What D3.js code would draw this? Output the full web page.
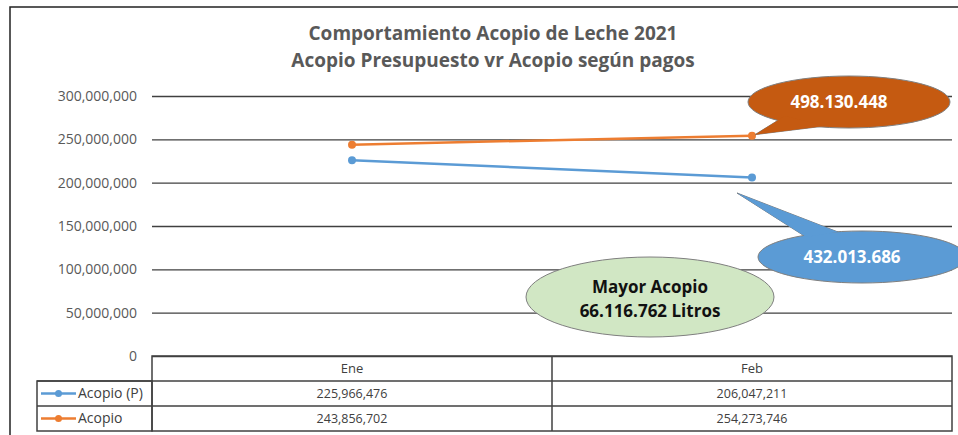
<!DOCTYPE html>
<html>
<head>
<meta charset="utf-8">
<script src="https://cdn.jsdelivr.net/npm/d3@7"></script>
<style>
  body { margin: 0; background: #fff; }
  svg { display: block; font-family: "Open Sans", "Noto Sans", sans-serif; }
</style>
</head>
<body>
<div id="chart"></div>
<script>
// chart data
const categories = ["Ene", "Feb"];
const seriesNames = ["Acopio (P)", "Acopio"];
const acopioP = [225966476, 206047211];
const acopio = [243856702, 254273746];
const yTicks = [0, 50000000, 100000000, 150000000, 200000000, 250000000, 300000000];
const titleLines = ["Comportamiento Acopio de Leche 2021", "Acopio Presupuesto vr Acopio según pagos"];
const calloutTexts = ["498.130.448", "432.013.686"];
const noteLines = ["Mayor Acopio", "66.116.762 Litros"];

const width = 958;
const height = 435;
const colors = ["#5B9BD5", "#ED7D31"];
const series = [acopioP, acopio];

const svg = d3.select("#chart").append("svg")
    .attr("width", width)
    .attr("height", height);

// outer frame
svg.append("rect")
    .attr("x", 10).attr("y", 7)
    .attr("width", 960).attr("height", 440)
    .attr("fill", "#fff")
    .attr("stroke", "#222")
    .attr("stroke-width", 1.5);

const x = d3.scaleBand()
    .domain(categories)
    .range([152, 952])
    .paddingInner(0)
    .paddingOuter(0);

const y = d3.scaleLinear()
    .domain([0, 300000000])
    .range([356, 96]);

// title
svg.selectAll(".title")
    .data(titleLines)
    .enter()
    .append("text")
    .attr("class", "title")
    .attr("x", 493)
    .attr("y", (d, i) => 40 + i * 27)
    .attr("text-anchor", "middle")
    .attr("font-size", 19)
    .attr("font-weight", "bold")
    .attr("fill", "#595959")
    .text(d => d);

// y axis with gridlines
const yAxis = d3.axisLeft(y)
    .tickValues(yTicks)
    .tickSize(-(952 - 152))
    .tickPadding(15)
    .tickFormat(d3.format(","));

const gy = svg.append("g")
    .attr("transform", "translate(152,0)")
    .call(yAxis);
gy.select(".domain").remove();
gy.selectAll(".tick line")
    .attr("stroke", "#404040")
    .attr("stroke-width", 1.3);
gy.selectAll(".tick text")
    .attr("font-size", 14)
    .attr("fill", "#595959")
    .attr("font-family", "Open Sans, sans-serif");

// lines
const line = d3.line()
    .x((d, i) => x(categories[i]) + x.bandwidth() / 2)
    .y(d => y(d));

series.forEach((s, k) => {
    svg.append("path")
        .datum(s)
        .attr("fill", "none")
        .attr("stroke", colors[k])
        .attr("stroke-width", 2.5)
        .attr("d", line);
    svg.selectAll(".pt" + k)
        .data(s)
        .enter()
        .append("circle")
        .attr("class", "pt" + k)
        .attr("cx", (d, i) => x(categories[i]) + x.bandwidth() / 2)
        .attr("cy", d => y(d))
        .attr("r", 4)
        .attr("fill", colors[k]);
});

// data table
const rowTop = [356, 381, 406, 431];
const tbl = svg.append("g")
    .attr("fill", "none")
    .attr("stroke", "#404040")
    .attr("stroke-width", 1.5);
tbl.append("rect").attr("x", 152).attr("y", rowTop[0]).attr("width", 800).attr("height", rowTop[3] - rowTop[0]);
tbl.append("rect").attr("x", 37).attr("y", rowTop[1]).attr("width", 115).attr("height", rowTop[3] - rowTop[1]);
tbl.append("line").attr("x1", 37).attr("x2", 952).attr("y1", rowTop[1]).attr("y2", rowTop[1]);
tbl.append("line").attr("x1", 37).attr("x2", 952).attr("y1", rowTop[2]).attr("y2", rowTop[2]);
tbl.append("line").attr("x1", x("Feb")).attr("x2", x("Feb")).attr("y1", rowTop[0]).attr("y2", rowTop[3]);

svg.selectAll(".colhead")
    .data(categories)
    .enter()
    .append("text")
    .attr("class", "colhead")
    .attr("x", d => x(d) + x.bandwidth() / 2)
    .attr("y", rowTop[0] + 17)
    .attr("text-anchor", "middle")
    .attr("font-size", 13)
    .attr("fill", "#404040")
    .text(d => d);

series.forEach((s, k) => {
    const yy = rowTop[k + 1] + 17;
    svg.selectAll(".cell" + k)
        .data(s)
        .enter()
        .append("text")
        .attr("class", "cell" + k)
        .attr("x", (d, i) => x(categories[i]) + x.bandwidth() / 2)
        .attr("y", yy)
        .attr("text-anchor", "middle")
        .attr("font-size", 12.5)
        .attr("fill", "#404040")
        .text(d => d3.format(",")(d));
    const ym = rowTop[k + 1] + 12.5;
    svg.append("line")
        .attr("x1", 41).attr("x2", 76)
        .attr("y1", ym).attr("y2", ym)
        .attr("stroke", colors[k])
        .attr("stroke-width", 2.5);
    svg.append("circle")
        .attr("cx", 58.5).attr("cy", ym).attr("r", 3.5)
        .attr("fill", colors[k]);
    svg.append("text")
        .attr("x", 78).attr("y", yy)
        .attr("font-size", 14)
        .attr("fill", "#404040")
        .text(seriesNames[k]);
});

// callouts
function callout(cx, cy, rx, ry, tip, base1, base2, fill, label) {
    const g = svg.append("g");
    g.append("path")
        .attr("d", `M${base1[0]},${base1[1]} L${tip[0]},${tip[1]} L${base2[0]},${base2[1]} Z`)
        .attr("fill", fill)
        .attr("stroke", "#7f7f7f")
        .attr("stroke-width", 1);
    g.append("ellipse")
        .attr("cx", cx).attr("cy", cy)
        .attr("rx", rx).attr("ry", ry)
        .attr("fill", fill)
        .attr("stroke", "#7f7f7f")
        .attr("stroke-width", 1);
    // cover the seam
    g.append("path")
        .attr("d", `M${base1[0]},${base1[1]} L${tip[0]},${tip[1]} L${base2[0]},${base2[1]} Z`)
        .attr("fill", fill);
    g.append("text")
        .attr("x", cx - 10).attr("y", cy + 6)
        .attr("text-anchor", "middle")
        .attr("font-size", 17)
        .attr("font-weight", "bold")
        .attr("fill", "#fff")
        .text(label);
}

const febX = x("Feb") + x.bandwidth() / 2;
callout(849, 102, 101, 26, [febX + 3, y(acopio[1]) - 1], [785, 116], [825, 126], "#C55A11", calloutTexts[0]);
callout(862, 257, 104, 26, [737, 193], [806, 237], [838, 232], "#5B9BD5", calloutTexts[1]);

// note ellipse
svg.append("ellipse")
    .attr("cx", 650).attr("cy", 297)
    .attr("rx", 124).attr("ry", 40)
    .attr("fill", "#D1E7C4")
    .attr("stroke", "#7f7f7f")
    .attr("stroke-width", 1);
svg.selectAll(".note")
    .data(noteLines)
    .enter()
    .append("text")
    .attr("class", "note")
    .attr("x", 650)
    .attr("y", (d, i) => 293 + i * 24)
    .attr("text-anchor", "middle")
    .attr("font-size", 17)
    .attr("font-weight", "bold")
    .attr("fill", "#111")
    .text(d => d);
</script>
</body>
</html>
